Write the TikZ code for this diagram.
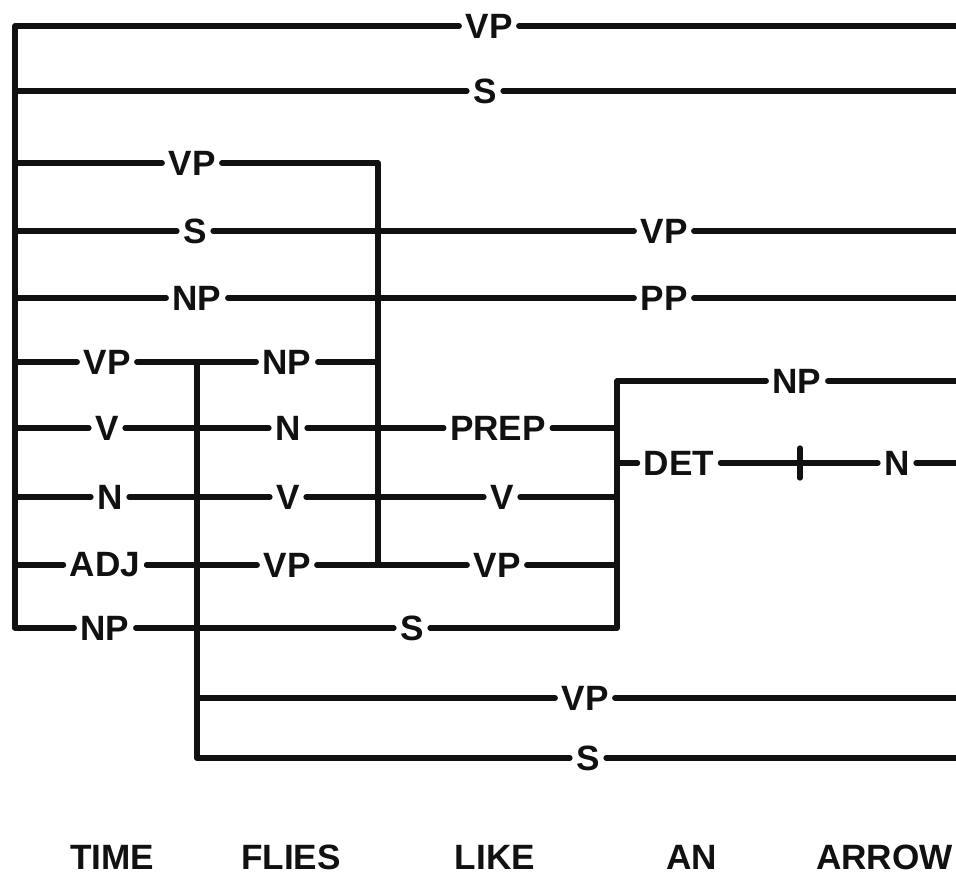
\documentclass[tikz,border=0pt]{standalone}
\usepackage{fontspec}
\setmainfont{Liberation Sans}
\usepackage{tikz}
\usetikzlibrary{calc}
\definecolor{chartink}{HTML}{111111}
\tikzset{
every picture/.style={line cap=round,line join=round},
chart edge/.style={draw=chartink, line width=3.8pt},
chart label/.style={font=\fontsize{25}{27}\selectfont\bfseries, text=chartink, inner sep=4.5pt, outer sep=0pt},
word label/.style={font=\fontsize{25}{27}\selectfont\bfseries, text=chartink, inner sep=0pt}
}

\begin{document}
\begin{tikzpicture}[x=0.025cm,y=-0.025cm]
\useasboundingbox (0,0) rectangle (956,876);
\foreach \n/\y in {1/26,2/91,3/163,4/231,5/298,6/362,7/428,8/497,9/565,10/628} {\coordinate (A\n) at (15,\y);}
\foreach \n/\y in {1/26,2/91,4/231,5/298,11/381,12/463,13/698,14/758} {\coordinate (R\n) at (962,\y);}
\foreach \n/\y in {3/163,6/362,9/565} {\coordinate (B\n) at (378,\y);}
\foreach \n/\y in {7/428,8/497,9/565,10/628,11/381,12/463} {\coordinate (D\n) at (617,\y);}
\foreach \n/\y in {6/362,13/698,14/758} {\coordinate (C\n) at (197,\y);}
\coordinate (tick) at (800,463);
\draw[chart edge] (A1) -- (A10);
\draw[chart edge] (B3) -- (B9);
\draw[chart edge] (C6) -- (C14);
\draw[chart edge] (D11) -- (D10);
\node[chart label] (vp all) at (489,26) {VP};
\node[chart label] (s all) at (485,91) {S};
\node[chart label] (vp tf) at (192,163) {VP};
\node[chart label] (s tf) at (195,231) {S};
\node[chart label] (vp la) at (664,231) {VP};
\node[chart label] (np tf) at (197,298) {NP};
\node[chart label] (pp la) at (664,298) {PP};
\node[chart label] (vp time) at (107,362) {VP};
\node[chart label] (np flies) at (287,362) {NP};
\node[chart label] (v time) at (107,428) {V};
\node[chart label] (n flies) at (288,428) {N};
\node[chart label] (prep like) at (498,428) {PREP};
\node[chart label] (n time) at (110,497) {N};
\node[chart label] (v flies) at (288,497) {V};
\node[chart label] (v like) at (502,497) {V};
\node[chart label] (adj time) at (105,565) {ADJ};
\node[chart label] (vp flies) at (287,565) {VP};
\node[chart label] (vp like) at (497,565) {VP};
\node[chart label] (np time) at (105,628) {NP};
\node[chart label] (s fl) at (412,628) {S};
\node[chart label] (np aa) at (797,381) {NP};
\node[chart label] (det an) at (679,463) {DET};
\node[chart label] (n arrow) at (897,463) {N};
\node[chart label] (vp fla) at (585,698) {VP};
\node[chart label] (s fla) at (588,758) {S};
\draw[chart edge] (A1) -- (vp all) -- (R1);
\draw[chart edge] (A2) -- (s all) -- (R2);
\draw[chart edge] (A3) -- (vp tf) -- (B3);
\draw[chart edge] (A4) -- (s tf) -- (vp la) -- (R4);
\draw[chart edge] (A5) -- (np tf) -- (pp la) -- (R5);
\draw[chart edge] (A6) -- (vp time) -- (np flies) -- (B6);
\draw[chart edge] (A7) -- (v time) -- (n flies) -- (prep like) -- (D7);
\draw[chart edge] (A8) -- (n time) -- (v flies) -- (v like) -- (D8);
\draw[chart edge] (A9) -- (adj time) -- (vp flies) -- (vp like) -- (D9);
\draw[chart edge] (A10) -- (np time) -- (s fl) -- (D10);
\draw[chart edge] (D11) -- (np aa) -- (R11);
\draw[chart edge] (D12) -- (det an) -- (n arrow) -- (R12);
\draw[chart edge] (tick) ++(0,-15) -- ++(0,30);
\draw[chart edge] (C13) -- (vp fla) -- (R13);
\draw[chart edge] (C14) -- (s fla) -- (R14);
\node[word label] (time) at (112,857) {TIME};
\node[word label] (flies) at (291,857) {FLIES};
\node[word label] (like) at (495,857) {LIKE};
\node[word label] (an) at (692,857) {AN};
\node[word label,anchor=east] (arrow) at (953,857) {ARROW};
\end{tikzpicture}
\end{document}
